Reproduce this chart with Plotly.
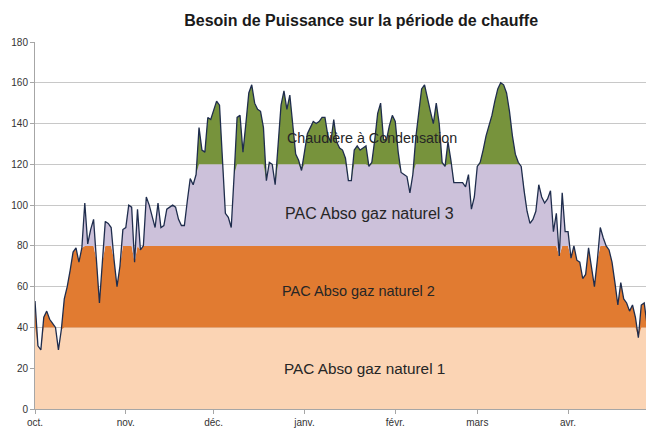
import pandas as pd
import plotly.graph_objects as go

# Daily power demand, Oct 1 -> Apr 30 (212 days)
start_date = "2009-10-01"
end_date = "2010-04-30"
power = [
    53, 31, 29, 45, 48, 44, 42, 40, 29, 39,
    54, 60, 68, 77, 79, 72, 79, 101, 81, 88,
    93, 73, 52, 72, 92, 91, 89, 73, 60, 70,
    88, 89, 100, 99, 72, 98, 78, 80, 104, 100,
    95, 89, 101, 89, 90, 98, 99, 100, 99, 93,
    90, 90, 102, 113, 110, 115, 138, 127, 126, 143,
    142, 146, 151, 149, 124, 96, 94, 89, 115, 143,
    144, 126, 140, 155, 159, 150, 147, 146, 138, 112,
    121, 120, 110, 132, 149, 156, 147, 154, 141, 125,
    122, 117, 126, 135, 138, 141, 140, 141, 143, 143,
    134, 131, 142, 131, 128, 127, 123, 112, 112, 127,
    129, 127, 128, 129, 119, 121, 132, 145, 150, 132,
    132, 139, 144, 141, 126, 116, 115, 114, 106, 115,
    133, 145, 157, 159, 152, 146, 140, 150, 140, 121,
    119, 131, 122, 111, 111, 111, 111, 109, 115, 98,
    104, 119, 121, 127, 134, 139, 144, 151, 157, 160,
    159, 155, 146, 134, 125, 121, 119, 107, 97, 91,
    93, 97, 110, 104, 101, 103, 107, 87, 96, 75,
    106, 87, 87, 74, 80, 73, 72, 64, 66, 79,
    70, 60, 73, 89, 84, 80, 78, 72, 62, 51,
    62, 54, 52, 48, 51, 45, 35, 51, 52, 41,
    36, 48,
]
layer_step = 40
layer_names = ["PAC Abso gaz naturel 1", "PAC Abso gaz naturel 2",
               "PAC Abso gaz naturel 3", "Chaudière à Condensation"]
layer_colors = ["#FBD4B4", "#E17B31", "#CCC1DA", "#77933C"]
month_ticks = ["2009-10-01", "2009-11-01", "2009-12-01", "2010-01-01",
               "2010-02-01", "2010-03-01", "2010-04-01"]
month_labels = ["oct.", "nov.", "déc.", "janv.", "févr.", "mars", "avr."]
y_ticks = [0, 20, 40, 60, 80, 100, 120, 140, 160, 180]
title_text = "Besoin de Puissance sur la période de chauffe"

dates = pd.date_range(start_date, end_date, freq="D")

# split demand into stacked layers of 40 (last one unbounded)
layers = []
for i in range(4):
    lo = i * layer_step
    if i < 3:
        layers.append([min(max(p - lo, 0), layer_step) for p in power])
    else:
        layers.append([max(p - lo, 0) for p in power])

fig = go.Figure()
for name, vals, col in zip(layer_names, layers, layer_colors):
    fig.add_trace(go.Scatter(
        x=dates, y=vals, name=name, stackgroup="s", mode="lines",
        line=dict(width=0, color=col), fillcolor=col, hoverinfo="skip"))

fig.add_trace(go.Scatter(x=dates, y=power, mode="lines",
                         line=dict(color="#1F2D4D", width=1.3),
                         name="Besoin"))

# labels for each layer (paper coordinates)
label_specs = [
    (layer_names[3], 0.545, 0.739, 14.3),
    (layer_names[2], 0.541, 0.534, 16),
    (layer_names[1], 0.524, 0.322, 14.5),
    (layer_names[0], 0.533, 0.111, 15.3),
]
for txt, xp, yp, fs in label_specs:
    fig.add_annotation(text=txt, x=xp, y=yp, xref="paper", yref="paper",
                       showarrow=False, xanchor="center", yanchor="middle",
                       font=dict(family="Liberation Sans, Arial", size=fs,
                                 color="#262626"))

# page body adds an 8px offset; margins compensate for it
fig.update_layout(
    width=654, height=428,
    margin=dict(l=27, r=9, t=34, b=27, autoexpand=False),
    paper_bgcolor="white", plot_bgcolor="white",
    showlegend=False,
    title=dict(text="<b>" + title_text + "</b>", x=0.54, y=0.972,
               xanchor="center", yanchor="middle",
               font=dict(family="Liberation Sans, Arial", size=16,
                         color="#1a1a1a")),
    font=dict(family="Liberation Sans, Arial", size=10, color="#333333"),
)
fig.update_xaxes(
    range=[dates[0], dates[-1]], tickvals=month_ticks, ticktext=month_labels,
    showgrid=False, showline=True, linecolor="#A6A6A6", linewidth=1,
    ticks="outside", ticklen=4, tickcolor="#A6A6A6", automargin=False,
    tickfont=dict(size=10, color="#333333"), zeroline=False,
)
fig.update_yaxes(
    range=[0, 180], tickvals=y_ticks, showgrid=True, gridcolor="#C8C8C8",
    gridwidth=1, showline=True, linecolor="#A6A6A6", linewidth=1,
    ticks="outside", ticklen=4, tickcolor="#A6A6A6", automargin=False,
    tickfont=dict(size=10, color="#333333"), zeroline=False,
)

fig.write_html("out.html")
